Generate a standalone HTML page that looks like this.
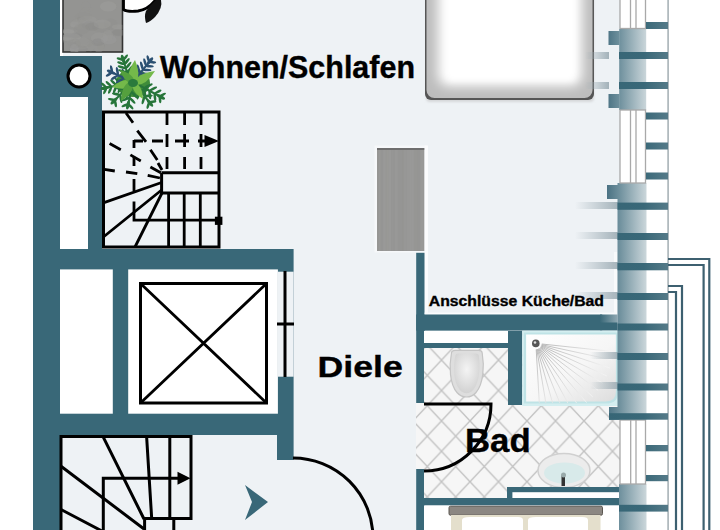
<!DOCTYPE html>
<html><head><meta charset="utf-8">
<style>
html,body{margin:0;padding:0;background:#fff;}
body{width:720px;height:530px;overflow:hidden;}
svg{display:block;}
text{font-family:"Liberation Sans",sans-serif;font-weight:bold;fill:#000;stroke:#000;stroke-width:0.35px;}
</style></head>
<body>
<svg width="720" height="530" viewBox="0 0 720 530">
<defs>
  <clipPath id="gbclip"><rect x="63" y="0" width="59.5" height="52"/></clipPath>
  <linearGradient id="wfade" x1="0" x2="1" y1="0" y2="0">
    <stop offset="0" stop-color="#396878"/>
    <stop offset="1" stop-color="#8fa8b2"/>
  </linearGradient>
  <clipPath id="shclip"><rect x="525" y="334" width="92" height="69"/></clipPath>
  <radialGradient id="sprayg" gradientUnits="userSpaceOnUse" cx="535.8" cy="343.4" r="75">
    <stop offset="0" stop-color="#a0a0a0"/>
    <stop offset="0.55" stop-color="#cfcfcf"/>
    <stop offset="1" stop-color="#f4f4f4"/>
  </radialGradient>
  <filter id="bl6" x="-30%" y="-30%" width="160%" height="160%"><feGaussianBlur stdDeviation="6"/></filter>
  <filter id="bl3" x="-30%" y="-30%" width="160%" height="160%"><feGaussianBlur stdDeviation="3"/></filter>
  <filter id="bl1" x="-30%" y="-30%" width="160%" height="160%"><feGaussianBlur stdDeviation="1"/></filter>
  <linearGradient id="pil" gradientUnits="userSpaceOnUse" x1="607" x2="647" y1="0" y2="0">
    <stop offset="0" stop-color="#4a7283"/>
    <stop offset="0.3" stop-color="#6d8f9c"/>
    <stop offset="1" stop-color="#cdd8dc"/>
  </linearGradient>
  <linearGradient id="bar" gradientUnits="userSpaceOnUse" x1="607" x2="668" y1="0" y2="0">
    <stop offset="0" stop-color="#376676"/>
    <stop offset="0.6" stop-color="#396878"/>
    <stop offset="1" stop-color="#557a88"/>
  </linearGradient>
  <linearGradient id="shad" x1="0" x2="1" y1="0" y2="0">
    <stop offset="0" stop-color="#9aaab2" stop-opacity="0"/>
    <stop offset="1" stop-color="#9aaab2" stop-opacity="0.9"/>
  </linearGradient>
  <linearGradient id="fadeL" x1="0" x2="1" y1="0" y2="0">
    <stop offset="0" stop-color="#396878" stop-opacity="0"/>
    <stop offset="1" stop-color="#396878" stop-opacity="0.9"/>
  </linearGradient>
  <linearGradient id="gbox" x1="0" x2="1" y1="0" y2="0">
    <stop offset="0" stop-color="#8e8e8c"/>
    <stop offset="0.5" stop-color="#a3a3a1"/>
    <stop offset="1" stop-color="#8a8a88"/>
  </linearGradient>
  <pattern id="tiles" x="441.5" y="451.3" width="28.5" height="30.4" patternUnits="userSpaceOnUse">
    <rect width="28.5" height="30.4" fill="#f6f6f6"/>
    <path d="M0 0L28.5 30.4M28.5 0L0 30.4" stroke="#c2c2c2" stroke-width="1.4"/>
  </pattern>
  <linearGradient id="shw" x1="0" y1="0" x2="1" y2="1">
    <stop offset="0" stop-color="#ffffff"/>
    <stop offset="0.55" stop-color="#f6f6f6"/>
    <stop offset="1" stop-color="#dcdcdc"/>
  </linearGradient>
  <radialGradient id="wc" cx="0.5" cy="0.4" r="0.6">
    <stop offset="0" stop-color="#f4f4f4"/>
    <stop offset="1" stop-color="#d2d2d2"/>
  </radialGradient>
</defs>

<!-- background -->
<rect x="0" y="0" width="720" height="530" fill="#eef2f5"/>
<rect x="0" y="0" width="33" height="530" fill="#ffffff"/>
<rect x="646" y="0" width="74" height="530" fill="#ffffff"/>

<!-- left walls -->
<rect x="33" y="0" width="27" height="530" fill="#396878"/>
<rect x="60" y="0" width="3" height="56" fill="#ffffff"/>
<rect x="60" y="56" width="42" height="194" fill="#396878"/>
<rect x="60" y="97" width="28" height="152.2" fill="#ffffff"/>
<circle cx="79" cy="76" r="11" fill="#ffffff" stroke="#000" stroke-width="3"/>

<!-- horizontal wall block -->
<rect x="33" y="249" width="260.6" height="186" fill="#396878"/>
<rect x="60" y="269.4" width="52.8" height="144.3" fill="#ffffff"/>
<rect x="128.2" y="269.4" width="149.7" height="144.3" fill="#ffffff"/>
<rect x="277.9" y="271.7" width="15.7" height="105" fill="#eef2f5"/>
<rect x="277" y="435" width="16.6" height="25" fill="#396878"/>
<!-- X box -->
<rect x="140.5" y="283.5" width="126" height="119.5" fill="none" stroke="#000" stroke-width="3"/>
<path d="M140.5 283.5L266.5 403M266.5 283.5L140.5 403" stroke="#000" stroke-width="2.8"/>
<!-- window line -->
<path d="M285 271V377M277 324H294" stroke="#000" stroke-width="3"/>

<!-- gray box top-left -->
<rect x="63" y="-2" width="59.5" height="54" fill="#949492" stroke="#333" stroke-width="1.6"/>
<g clip-path="url(#gbclip)"><ellipse cx="99.5" cy="38.1" rx="8.6" ry="5.8" fill="rgb(158,158,156)" opacity="0.35"/>
<ellipse cx="101.2" cy="27.5" rx="8.9" ry="5.1" fill="rgb(142,142,140)" opacity="0.35"/>
<ellipse cx="101.0" cy="46.0" rx="3.8" ry="3.9" fill="rgb(142,142,140)" opacity="0.35"/>
<ellipse cx="85.7" cy="6.1" rx="4.7" ry="4.9" fill="rgb(148,148,146)" opacity="0.35"/>
<ellipse cx="79.9" cy="46.8" rx="8.4" ry="2.6" fill="rgb(160,160,158)" opacity="0.35"/>
<ellipse cx="68.1" cy="31.9" rx="6.1" ry="2.5" fill="rgb(162,162,160)" opacity="0.35"/>
<ellipse cx="64.3" cy="39.7" rx="9.7" ry="2.7" fill="rgb(140,140,138)" opacity="0.35"/>
<ellipse cx="80.5" cy="49.1" rx="6.8" ry="4.7" fill="rgb(141,141,139)" opacity="0.35"/>
<ellipse cx="74.4" cy="49.4" rx="4.4" ry="5.9" fill="rgb(147,147,145)" opacity="0.35"/>
<ellipse cx="81.0" cy="19.1" rx="4.2" ry="2.6" fill="rgb(137,137,135)" opacity="0.35"/>
<ellipse cx="82.9" cy="41.9" rx="7.1" ry="4.4" fill="rgb(157,157,155)" opacity="0.35"/>
<ellipse cx="83.3" cy="16.5" rx="8.7" ry="3.9" fill="rgb(145,145,143)" opacity="0.35"/>
<ellipse cx="74.5" cy="24.6" rx="4.2" ry="3.0" fill="rgb(165,165,163)" opacity="0.35"/>
<ellipse cx="65.3" cy="38.5" rx="8.9" ry="2.1" fill="rgb(160,160,158)" opacity="0.35"/>
<ellipse cx="87.9" cy="19.8" rx="8.9" ry="3.8" fill="rgb(157,157,155)" opacity="0.35"/>
<ellipse cx="74.3" cy="48.8" rx="4.4" ry="5.0" fill="rgb(164,164,162)" opacity="0.35"/>
<ellipse cx="110.7" cy="24.1" rx="6.6" ry="5.6" fill="rgb(143,143,141)" opacity="0.35"/>
<ellipse cx="108.2" cy="6.4" rx="8.2" ry="5.2" fill="rgb(162,162,160)" opacity="0.35"/>
<ellipse cx="80.9" cy="22.6" rx="9.8" ry="2.8" fill="rgb(151,151,149)" opacity="0.35"/>
<ellipse cx="98.8" cy="46.9" rx="5.4" ry="5.7" fill="rgb(152,152,150)" opacity="0.35"/>
<ellipse cx="69.2" cy="35.3" rx="5.1" ry="5.2" fill="rgb(155,155,153)" opacity="0.35"/>
<ellipse cx="72.5" cy="35.5" rx="10.0" ry="2.6" fill="rgb(136,136,134)" opacity="0.35"/>
<ellipse cx="68.6" cy="31.0" rx="9.5" ry="2.1" fill="rgb(158,158,156)" opacity="0.35"/>
<ellipse cx="97.9" cy="42.3" rx="6.2" ry="3.7" fill="rgb(136,136,134)" opacity="0.35"/>
<ellipse cx="119.8" cy="32.9" rx="8.6" ry="3.3" fill="rgb(141,141,139)" opacity="0.35"/>
<ellipse cx="71.4" cy="37.6" rx="9.6" ry="4.5" fill="rgb(160,160,158)" opacity="0.35"/>
<ellipse cx="87.6" cy="9.4" rx="5.6" ry="2.2" fill="rgb(148,148,146)" opacity="0.35"/>
<ellipse cx="80.8" cy="23.7" rx="10.0" ry="5.4" fill="rgb(151,151,149)" opacity="0.35"/>
<ellipse cx="89.9" cy="25.4" rx="8.1" ry="3.9" fill="rgb(144,144,142)" opacity="0.35"/>
<ellipse cx="90.8" cy="46.1" rx="3.8" ry="5.3" fill="rgb(152,152,150)" opacity="0.35"/>
<ellipse cx="118.7" cy="32.3" rx="6.5" ry="3.4" fill="rgb(137,137,135)" opacity="0.35"/>
<ellipse cx="92.0" cy="26.8" rx="6.8" ry="4.0" fill="rgb(137,137,135)" opacity="0.35"/>
<ellipse cx="108.8" cy="39.7" rx="7.9" ry="4.7" fill="rgb(159,159,157)" opacity="0.35"/>
<ellipse cx="81.4" cy="29.0" rx="7.7" ry="5.3" fill="rgb(143,143,141)" opacity="0.35"/>
<ellipse cx="107.9" cy="35.5" rx="5.1" ry="5.8" fill="rgb(155,155,153)" opacity="0.35"/>
<ellipse cx="74.2" cy="43.6" rx="6.3" ry="5.1" fill="rgb(145,145,143)" opacity="0.35"/>
<ellipse cx="102.3" cy="24.1" rx="8.7" ry="4.6" fill="rgb(160,160,158)" opacity="0.35"/>
<ellipse cx="84.3" cy="14.7" rx="5.4" ry="5.8" fill="rgb(148,148,146)" opacity="0.35"/>
<ellipse cx="84.0" cy="43.1" rx="9.1" ry="4.8" fill="rgb(146,146,144)" opacity="0.35"/>
<ellipse cx="118.5" cy="26.9" rx="6.7" ry="2.7" fill="rgb(161,161,159)" opacity="0.35"/></g>
<!-- black object top -->
<path d="M123.5 -5 L123.5 9.5 Q127 12 138 11 Q150 9.5 159 -5 Z" fill="#fff" stroke="#000" stroke-width="2.8"/>
<path d="M146 11 Q151 4 156 0 L161 0 Q163 8 155 17 Q150 22 146 23 Q144 16 146 11Z" fill="#111"/>

<!-- plant -->
<g>
<ellipse cx="133" cy="83" rx="17" ry="14" fill="#3f8c3a"/>
<path d="M133.0 82.0L105.0 88.0" stroke="#27753a" stroke-width="2" fill="none"/>
<ellipse cx="118.5" cy="81.3" rx="5.0" ry="1.3" transform="rotate(223 118.5 81.3)" fill="#27753a"/>
<ellipse cx="120.0" cy="88.5" rx="5.0" ry="1.3" transform="rotate(113 120.0 88.5)" fill="#27753a"/>
<ellipse cx="113.7" cy="82.7" rx="4.5" ry="1.3" transform="rotate(223 113.7 82.7)" fill="#27753a"/>
<ellipse cx="115.1" cy="89.3" rx="4.5" ry="1.3" transform="rotate(113 115.1 89.3)" fill="#27753a"/>
<ellipse cx="108.8" cy="84.1" rx="4.1" ry="1.3" transform="rotate(223 108.8 84.1)" fill="#27753a"/>
<ellipse cx="110.1" cy="90.0" rx="4.1" ry="1.3" transform="rotate(113 110.1 90.0)" fill="#27753a"/>
<ellipse cx="104.0" cy="85.4" rx="3.7" ry="1.3" transform="rotate(223 104.0 85.4)" fill="#27753a"/>
<ellipse cx="105.1" cy="90.8" rx="3.7" ry="1.3" transform="rotate(113 105.1 90.8)" fill="#27753a"/>
<ellipse cx="105.0" cy="88.0" rx="4.5" ry="1.7" transform="rotate(168 105.0 88.0)" fill="#27753a"/>
<path d="M133.0 82.0L111.0 72.0" stroke="#2b5072" stroke-width="2" fill="none"/>
<ellipse cx="123.4" cy="73.6" rx="5.0" ry="1.3" transform="rotate(-101 123.4 73.6)" fill="#2b5072"/>
<ellipse cx="120.3" cy="80.3" rx="5.0" ry="1.3" transform="rotate(-211 120.3 80.3)" fill="#2b5072"/>
<ellipse cx="117.4" cy="71.3" rx="4.4" ry="1.3" transform="rotate(-101 117.4 71.3)" fill="#2b5072"/>
<ellipse cx="114.7" cy="77.3" rx="4.4" ry="1.3" transform="rotate(-211 114.7 77.3)" fill="#2b5072"/>
<ellipse cx="111.5" cy="69.1" rx="3.8" ry="1.3" transform="rotate(-101 111.5 69.1)" fill="#2b5072"/>
<ellipse cx="109.1" cy="74.3" rx="3.8" ry="1.3" transform="rotate(-211 109.1 74.3)" fill="#2b5072"/>
<ellipse cx="111.0" cy="72.0" rx="4.5" ry="1.7" transform="rotate(-156 111.0 72.0)" fill="#2b5072"/>
<path d="M130.0 82.0L123.0 59.0" stroke="#27753a" stroke-width="2" fill="none"/>
<ellipse cx="130.0" cy="69.3" rx="5.0" ry="1.3" transform="rotate(-52 130.0 69.3)" fill="#27753a"/>
<ellipse cx="122.9" cy="71.4" rx="5.0" ry="1.3" transform="rotate(-162 122.9 71.4)" fill="#27753a"/>
<ellipse cx="128.4" cy="65.4" rx="4.5" ry="1.3" transform="rotate(-52 128.4 65.4)" fill="#27753a"/>
<ellipse cx="122.0" cy="67.3" rx="4.5" ry="1.3" transform="rotate(-162 122.0 67.3)" fill="#27753a"/>
<ellipse cx="126.9" cy="61.4" rx="4.1" ry="1.3" transform="rotate(-52 126.9 61.4)" fill="#27753a"/>
<ellipse cx="121.1" cy="63.2" rx="4.1" ry="1.3" transform="rotate(-162 121.1 63.2)" fill="#27753a"/>
<ellipse cx="125.4" cy="57.5" rx="3.7" ry="1.3" transform="rotate(-52 125.4 57.5)" fill="#27753a"/>
<ellipse cx="120.2" cy="59.1" rx="3.7" ry="1.3" transform="rotate(-162 120.2 59.1)" fill="#27753a"/>
<ellipse cx="123.0" cy="59.0" rx="4.5" ry="1.7" transform="rotate(-107 123.0 59.0)" fill="#27753a"/>
<path d="M133.0 82.0L150.0 61.0" stroke="#2b5072" stroke-width="2" fill="none"/>
<ellipse cx="144.3" cy="73.9" rx="5.0" ry="1.3" transform="rotate(4 144.3 73.9)" fill="#2b5072"/>
<ellipse cx="138.6" cy="69.3" rx="5.0" ry="1.3" transform="rotate(-106 138.6 69.3)" fill="#2b5072"/>
<ellipse cx="147.0" cy="70.0" rx="4.5" ry="1.3" transform="rotate(4 147.0 70.0)" fill="#2b5072"/>
<ellipse cx="141.8" cy="65.8" rx="4.5" ry="1.3" transform="rotate(-106 141.8 65.8)" fill="#2b5072"/>
<ellipse cx="149.7" cy="66.2" rx="4.1" ry="1.3" transform="rotate(4 149.7 66.2)" fill="#2b5072"/>
<ellipse cx="145.0" cy="62.3" rx="4.1" ry="1.3" transform="rotate(-106 145.0 62.3)" fill="#2b5072"/>
<ellipse cx="152.5" cy="62.3" rx="3.7" ry="1.3" transform="rotate(4 152.5 62.3)" fill="#2b5072"/>
<ellipse cx="148.2" cy="58.9" rx="3.7" ry="1.3" transform="rotate(-106 148.2 58.9)" fill="#2b5072"/>
<ellipse cx="150.0" cy="61.0" rx="4.5" ry="1.7" transform="rotate(-51 150.0 61.0)" fill="#2b5072"/>
<path d="M133.0 82.0L161.0 97.0" stroke="#27753a" stroke-width="2" fill="none"/>
<ellipse cx="144.7" cy="92.5" rx="5.0" ry="1.3" transform="rotate(83 144.7 92.5)" fill="#27753a"/>
<ellipse cx="148.2" cy="86.0" rx="5.0" ry="1.3" transform="rotate(-27 148.2 86.0)" fill="#27753a"/>
<ellipse cx="149.8" cy="94.8" rx="4.5" ry="1.3" transform="rotate(83 149.8 94.8)" fill="#27753a"/>
<ellipse cx="153.0" cy="88.9" rx="4.5" ry="1.3" transform="rotate(-27 153.0 88.9)" fill="#27753a"/>
<ellipse cx="154.9" cy="97.2" rx="4.1" ry="1.3" transform="rotate(83 154.9 97.2)" fill="#27753a"/>
<ellipse cx="157.8" cy="91.8" rx="4.1" ry="1.3" transform="rotate(-27 157.8 91.8)" fill="#27753a"/>
<ellipse cx="160.0" cy="99.5" rx="3.7" ry="1.3" transform="rotate(83 160.0 99.5)" fill="#27753a"/>
<ellipse cx="162.6" cy="94.8" rx="3.7" ry="1.3" transform="rotate(-27 162.6 94.8)" fill="#27753a"/>
<ellipse cx="161.0" cy="97.0" rx="4.5" ry="1.7" transform="rotate(28 161.0 97.0)" fill="#27753a"/>
<path d="M133.0 82.0L150.0 103.0" stroke="#27753a" stroke-width="2" fill="none"/>
<ellipse cx="138.6" cy="94.7" rx="5.0" ry="1.3" transform="rotate(106 138.6 94.7)" fill="#27753a"/>
<ellipse cx="144.3" cy="90.1" rx="5.0" ry="1.3" transform="rotate(-4 144.3 90.1)" fill="#27753a"/>
<ellipse cx="143.4" cy="100.0" rx="4.4" ry="1.3" transform="rotate(106 143.4 100.0)" fill="#27753a"/>
<ellipse cx="148.4" cy="95.9" rx="4.4" ry="1.3" transform="rotate(-4 148.4 95.9)" fill="#27753a"/>
<ellipse cx="148.2" cy="105.3" rx="3.8" ry="1.3" transform="rotate(106 148.2 105.3)" fill="#27753a"/>
<ellipse cx="152.6" cy="101.7" rx="3.8" ry="1.3" transform="rotate(-4 152.6 101.7)" fill="#27753a"/>
<ellipse cx="150.0" cy="103.0" rx="4.5" ry="1.7" transform="rotate(51 150.0 103.0)" fill="#27753a"/>
<path d="M133.0 82.0L128.0 105.0" stroke="#27753a" stroke-width="2" fill="none"/>
<ellipse cx="126.8" cy="92.9" rx="5.0" ry="1.3" transform="rotate(157 126.8 92.9)" fill="#27753a"/>
<ellipse cx="134.1" cy="94.5" rx="5.0" ry="1.3" transform="rotate(47 134.1 94.5)" fill="#27753a"/>
<ellipse cx="126.0" cy="99.1" rx="4.4" ry="1.3" transform="rotate(157 126.0 99.1)" fill="#27753a"/>
<ellipse cx="132.3" cy="100.4" rx="4.4" ry="1.3" transform="rotate(47 132.3 100.4)" fill="#27753a"/>
<ellipse cx="125.1" cy="105.2" rx="3.8" ry="1.3" transform="rotate(157 125.1 105.2)" fill="#27753a"/>
<ellipse cx="130.6" cy="106.4" rx="3.8" ry="1.3" transform="rotate(47 130.6 106.4)" fill="#27753a"/>
<ellipse cx="128.0" cy="105.0" rx="4.5" ry="1.7" transform="rotate(102 128.0 105.0)" fill="#27753a"/>
<path d="M133.0 82.0L114.0 101.0" stroke="#27753a" stroke-width="2" fill="none"/>
<ellipse cx="121.0" cy="88.8" rx="5.0" ry="1.3" transform="rotate(190 121.0 88.8)" fill="#27753a"/>
<ellipse cx="126.2" cy="94.0" rx="5.0" ry="1.3" transform="rotate(80 126.2 94.0)" fill="#27753a"/>
<ellipse cx="116.3" cy="94.1" rx="4.4" ry="1.3" transform="rotate(190 116.3 94.1)" fill="#27753a"/>
<ellipse cx="120.9" cy="98.7" rx="4.4" ry="1.3" transform="rotate(80 120.9 98.7)" fill="#27753a"/>
<ellipse cx="111.6" cy="99.5" rx="3.8" ry="1.3" transform="rotate(190 111.6 99.5)" fill="#27753a"/>
<ellipse cx="115.5" cy="103.4" rx="3.8" ry="1.3" transform="rotate(80 115.5 103.4)" fill="#27753a"/>
<ellipse cx="114.0" cy="101.0" rx="4.5" ry="1.7" transform="rotate(135 114.0 101.0)" fill="#27753a"/>
<path d="M132.0 88.0Q142.8 79.2 135.0 60.0Q123.3 77.2 132.0 88.0Z" fill="#74b94a"/>
<path d="M133.0 85.0Q145.2 87.2 155.0 71.0Q136.2 73.0 133.0 85.0Z" fill="#74b94a"/>
<path d="M136.0 82.0Q125.9 75.5 112.0 87.0Q129.3 92.0 136.0 82.0Z" fill="#74b94a"/>
<path d="M133.0 80.0Q121.5 83.2 121.0 101.0Q136.1 91.5 133.0 80.0Z" fill="#55a03e"/>
<path d="M133.0 82.0Q130.5 91.5 143.0 99.0Q142.5 84.4 133.0 82.0Z" fill="#74b94a"/>
<path d="M135.0 84.0Q134.5 74.0 120.0 70.0Q125.0 84.2 135.0 84.0Z" fill="#55a03e"/>
<ellipse cx="133" cy="83" rx="5" ry="4" fill="#2a7a3c"/>
</g>

<!-- stairs 1 -->
<g fill="none" stroke="#000" stroke-width="3" stroke-linecap="butt">
  <rect x="103.5" y="112" width="115.5" height="135"/>
  <path d="M161.6 172.8V193.1H219M161.6 172.8H219"/>
  <path d="M168.6 193V247M184.2 193V247M200.3 193V247" stroke-width="2.8"/>
  <path d="M167 112V125M167 134V147M167 157V169M184.6 112V125M184.6 134V147M184.6 157V169M201 112V125M201 134V147M201 157V169" stroke-width="2.8"/>
  <path d="M134 141H143M152 141H163M175 141H189M198 141H206" stroke-width="2.8"/>
  <path d="M134 140V148M134 157V166M134 179V191M134 201.5V220.2H216" stroke-width="2.8"/>
  <path d="M161.6 182.5L104 202.6M161.6 190L104 236.5M162 193L135 247" stroke-width="2.8"/>
  <path d="M126 113L133 122.8M137.3 130.6L146 141.9M150.4 149.7L157.3 160.1M158 163L162 170" stroke-width="2.8"/>
  <path d="M109.6 143.6L120.8 149.7M130.4 154.9L140.8 161M150.4 167L160.8 172.8" stroke-width="2.8"/>
  <path d="M104.3 169.3L114.8 171M126 172L137.3 173.7M147.7 175.4L159.9 178" stroke-width="2.8"/>
</g>
<rect x="214.9" y="216.7" width="7.5" height="8.2" fill="#000"/>
<path d="M204.5 135L219 141L204.5 147Z" fill="#000"/>

<!-- stairs 2 -->
<g fill="none" stroke="#000" stroke-width="3">
  <path d="M61 535V436.4H191V518.6H144.6V535M173.8 518.6V535"/>
  <path d="M103.3 535V478.3H182"/>
  <path d="M169.8 436.4V518.6"/>
  <path d="M102.9 436.4L144 519M146.6 436.4L151.7 518.6M61 466.2L144 529M61 509.5L102 531"/>
</g>
<path d="M177.5 471.8L190.5 478.3L177.5 484.8Z" fill="#000"/>
<!-- arrow -->
<path d="M245 485L268 502L245 520L252 502Z" fill="#396878"/>
<!-- door arc Diele -->
<path d="M293 458A80 80 0 0 1 373 538" fill="none" stroke="#000" stroke-width="3"/>

<!-- wood box -->
<rect x="374.5" y="145.5" width="52.5" height="107" fill="#f6f8fa"/>
<rect x="377" y="148" width="47.4" height="103" fill="#979795"/>
<rect x="377.0" y="148" width="1.6" height="103" fill="rgb(148,148,146)" opacity="0.16"/>
<rect x="378.6" y="148" width="1.9" height="103" fill="rgb(170,170,168)" opacity="0.16"/>
<rect x="380.5" y="148" width="2.6" height="103" fill="rgb(144,144,142)" opacity="0.16"/>
<rect x="383.1" y="148" width="2.5" height="103" fill="rgb(170,170,168)" opacity="0.16"/>
<rect x="385.6" y="148" width="1.6" height="103" fill="rgb(154,154,152)" opacity="0.16"/>
<rect x="387.2" y="148" width="1.5" height="103" fill="rgb(170,170,168)" opacity="0.16"/>
<rect x="388.7" y="148" width="2.4" height="103" fill="rgb(170,170,168)" opacity="0.16"/>
<rect x="391.1" y="148" width="2.0" height="103" fill="rgb(149,149,147)" opacity="0.16"/>
<rect x="393.1" y="148" width="1.6" height="103" fill="rgb(149,149,147)" opacity="0.16"/>
<rect x="394.7" y="148" width="3.2" height="103" fill="rgb(164,164,162)" opacity="0.16"/>
<rect x="397.8" y="148" width="2.9" height="103" fill="rgb(144,144,142)" opacity="0.16"/>
<rect x="400.7" y="148" width="1.4" height="103" fill="rgb(142,142,140)" opacity="0.16"/>
<rect x="402.1" y="148" width="1.8" height="103" fill="rgb(141,141,139)" opacity="0.16"/>
<rect x="403.8" y="148" width="3.1" height="103" fill="rgb(157,157,155)" opacity="0.16"/>
<rect x="406.9" y="148" width="2.2" height="103" fill="rgb(164,164,162)" opacity="0.16"/>
<rect x="409.1" y="148" width="2.8" height="103" fill="rgb(167,167,165)" opacity="0.16"/>
<rect x="411.9" y="148" width="2.0" height="103" fill="rgb(168,168,166)" opacity="0.16"/>
<rect x="413.8" y="148" width="3.4" height="103" fill="rgb(148,148,146)" opacity="0.16"/>
<rect x="417.2" y="148" width="3.2" height="103" fill="rgb(146,146,144)" opacity="0.16"/>
<rect x="420.4" y="148" width="1.1" height="103" fill="rgb(171,171,169)" opacity="0.16"/>
<rect x="421.5" y="148" width="1.5" height="103" fill="rgb(167,167,165)" opacity="0.16"/>
<rect x="423.1" y="148" width="1.3" height="103" fill="rgb(159,159,157)" opacity="0.16"/>
<rect x="377" y="148" width="47.4" height="2" fill="#6e6e6e"/>

<!-- bed top -->
<g>
  <rect x="426" y="-10" width="168" height="112" rx="4" fill="#d6d8da" filter="url(#bl1)"/>
  <rect x="425" y="-10" width="169" height="110" rx="6" fill="#555"/>
  <rect x="426.5" y="-10" width="166" height="108" rx="8" fill="#bdbdbd"/>
  <rect x="438" y="-20" width="144" height="106" rx="10" fill="#ffffff" filter="url(#bl6)"/>
  <rect x="448" y="-20" width="126" height="100" fill="#ffffff" filter="url(#bl3)"/>
</g>

<!-- right interior walls -->
<rect x="416.2" y="252.8" width="8.5" height="151.5" fill="#396878"/>
<rect x="416.2" y="468.5" width="8.5" height="62" fill="#396878"/>
<rect x="424.7" y="145.5" width="3.3" height="169" fill="#fbfcfd"/>
<rect x="424.7" y="312.6" width="193" height="2" fill="#fbfcfd"/>
<rect x="614" y="252" width="3.5" height="62" fill="#f8fafb"/>
<rect x="416.2" y="314.5" width="186" height="16.1" fill="#396878"/>
<rect x="600" y="314.5" width="17.5" height="8.5" fill="url(#wfade)"/>
<rect x="600" y="322.5" width="17.5" height="8.1" fill="#396878"/>

<!-- bathroom -->
<rect x="424" y="331" width="196" height="167" fill="url(#tiles)"/>
<rect x="416" y="403" width="9" height="66" fill="url(#tiles)"/>
<rect x="424" y="331" width="84" height="12" fill="#ffffff"/>
<rect x="424" y="343" width="84" height="5" fill="#396878"/>
<rect x="508" y="331" width="14.2" height="74" fill="#396878"/>
<!-- shower -->
<rect x="522.2" y="330.6" width="97.8" height="75.4" fill="#d4eef0"/>
<path d="M525 333.5H617V392Q617 402.5 606 402.5H525Z" fill="url(#shw)" stroke="#bfe3e6" stroke-width="2.2"/>
<path d="M541.8 344.0L613.4 351.6M541.7 344.7L612.0 359.9M541.5 345.3L609.8 368.0M541.3 345.9L606.7 375.9M541.0 346.5L602.8 383.3M540.6 347.0L598.1 390.3M540.2 347.5L592.7 396.8M539.7 348.0L586.6 402.6M539.2 348.4L579.9 407.8M538.6 348.7L572.7 412.1M538.0 349.0L565.0 415.7M537.4 349.2L557.0 418.5M536.8 349.3L548.8 420.3M536.2 349.4L540.4 421.3" stroke="url(#sprayg)" stroke-width="0.8" fill="none" clip-path="url(#shclip)"/>
<circle cx="535.8" cy="343.4" r="3.8" fill="#555"/>
<circle cx="535" cy="342.5" r="1.3" fill="#ddd"/>
<!-- toilet -->
<path d="M451.5 352.5Q452 350.4 455 350.4H478.5Q482 350.4 482.2 353C484.5 366 483.5 384 476 392.5C471 398.5 462 398.5 457 392.5C449.5 384 449 366 451.5 352.5Z" fill="#dedede" stroke="#c4c4c4" stroke-width="1.2"/>
<path d="M455.5 355Q456 353.5 458 353.5H476Q478.5 353.5 478.8 355.5C480.5 367 479.5 382 473.5 389.5C469.5 394.5 463.5 394.5 459.5 389.5C453.5 382 452.8 367 455.5 355Z" fill="url(#wc)"/>
<!-- sink -->
<ellipse cx="564" cy="470.5" rx="26" ry="17" fill="#ececec" stroke="#d0d0d0" stroke-width="1.5"/>
<ellipse cx="564.5" cy="473" rx="20.5" ry="10.5" fill="#d8eaea"/>
<path d="M561.5 486V476Q563 472 565 476V486Z" fill="#333"/>
<circle cx="563.5" cy="475" r="2.5" fill="#9aa"/>
<rect x="507" y="487" width="113" height="11" fill="#396878"/>
<rect x="512.4" y="492.2" width="106.6" height="5.8" fill="#ffffff"/>
<rect x="424" y="498" width="196" height="7.5" fill="#396878"/>
<rect x="424" y="505.5" width="196" height="24.5" fill="#ffffff"/>
<!-- door bad -->
<path d="M424 404H491A67 67 0 0 1 424 471" fill="none" stroke="#000" stroke-width="3"/>
<!-- bed bottom -->
<rect x="449" y="506.2" width="153.5" height="9" rx="1.5" fill="#8c8782" stroke="#5a5650" stroke-width="1"/>
<rect x="451" y="515" width="149.5" height="16" fill="#e4dfcc"/>
<path d="M462 531V520Q462 517 470 517H518Q523 517 523 520V531Z" fill="#ffffff"/>
<path d="M528 531V520Q528 517 536 517H582Q588 517 588 520V531Z" fill="#ffffff"/>

<!-- right facade -->
<g>
  <!-- left shadows of bars -->
  <g fill="url(#shad)">
    <rect x="585" y="52" width="24" height="7"/>
    <rect x="585" y="82" width="24" height="7"/>
    <rect x="575" y="202" width="44" height="7"/>
    <rect x="575" y="232" width="44" height="7"/>
    <rect x="575" y="262" width="44" height="7"/>
    <rect x="575" y="292" width="44" height="7"/>
    <rect x="590" y="352" width="29" height="7"/>
    <rect x="590" y="382" width="29" height="7"/>
  </g>
  <g fill="url(#pil)">
    <rect x="619.2" y="29" width="27" height="81"/>
    <rect x="608.5" y="31" width="11" height="14"/>
    <rect x="608.5" y="94" width="11" height="14"/>
    <rect x="617.5" y="183" width="29" height="237"/>
    <rect x="607" y="185" width="11" height="14"/>
    <rect x="609" y="407" width="11" height="13"/>
    <rect x="619" y="484" width="27.5" height="46"/>
  </g>
  <g fill="#ffffff" stroke="#a9a9a9" stroke-width="1.3">
    <rect x="620" y="-2" width="25.5" height="30.5"/>
    <rect x="620" y="110" width="25.5" height="73"/>
    <rect x="620" y="420" width="25.5" height="64"/>
  </g>
  <path d="M630.5 -2V28M636 -2V28M630.5 110V183M636 110V183M630.7 420V484M636 420V484" stroke="#a9a9a9" stroke-width="1.3"/>
  <rect x="667.3" y="0" width="1.6" height="530" fill="#a9b3b7"/>
  <g fill="url(#bar)">
    <rect x="646" y="22" width="22" height="7"/>
    <rect x="619" y="52" width="49" height="7"/>
    <rect x="619" y="82" width="49" height="7"/>
    <rect x="646" y="112.5" width="22" height="7"/>
    <rect x="646" y="142.5" width="22" height="7"/>
    <rect x="646" y="172.5" width="22" height="7"/>
    <rect x="617.5" y="202.6" width="50.5" height="7.2"/>
    <rect x="617.5" y="233" width="50.5" height="7"/>
    <rect x="617.5" y="263" width="50.5" height="7.3"/>
    <rect x="617.5" y="293" width="50.5" height="7"/>
    <rect x="617.5" y="323.5" width="50.5" height="7"/>
    <rect x="617.5" y="353" width="50.5" height="7"/>
    <rect x="617.5" y="383.5" width="50.5" height="7"/>
    <rect x="609" y="413.2" width="59" height="6.5"/>
    <rect x="646" y="445" width="22" height="6.3"/>
    <rect x="646" y="475" width="22" height="6.2"/>
    <rect x="619" y="504.8" width="49" height="6.8"/>
  </g>
</g>
<g fill="none" stroke="#3d6070" stroke-width="2.2">
  <path d="M668 259H709.3V530M668 265H703.6V530M668 286H682V530M668 292H676V530"/>
</g>

<!-- labels -->
<text x="160" y="78.3" font-size="30.5" textLength="255" lengthAdjust="spacingAndGlyphs">Wohnen/Schlafen</text>
<text x="428.8" y="305.8" font-size="14.6" textLength="175.2" lengthAdjust="spacingAndGlyphs">Anschlüsse Küche/Bad</text>
<text x="317.5" y="377" font-size="30" textLength="85.3" lengthAdjust="spacingAndGlyphs">Diele</text>
<text x="465" y="452" font-size="33.5" textLength="65.7" lengthAdjust="spacingAndGlyphs">Bad</text>
</svg>
</body></html>
